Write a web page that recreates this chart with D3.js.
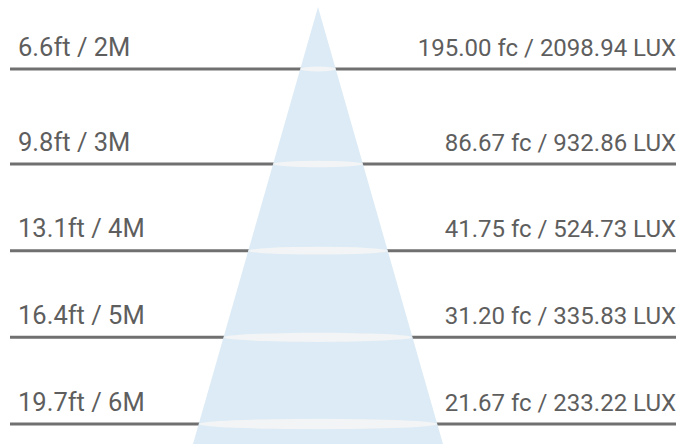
<!DOCTYPE html>
<html lang="en">
  <head>
    <meta charset="UTF-8" />
    <title>Beam Illuminance</title>
    <script src="https://d3js.org/d3.v7.min.js"></script>
    <style>
      body {
        margin: 0;
        background: #fff;
        font-family: Roboto, Arial, sans-serif;
      }
    </style>
  </head>
  <body>
    <div id="chart"></div>
    <script>
      // distances and illuminance readings
      const meters = [2, 3, 4, 5, 6];
      const feet = ['6.6', '9.8', '13.1', '16.4', '19.7'];
      const footCandles = ['195.00', '86.67', '41.75', '31.20', '21.67'];
      const lux = ['2098.94', '932.86', '524.73', '335.83', '233.22'];

      const width = 696;
      const height = 444;

      const svg = d3
        .select('#chart')
        .append('svg')
        .attr('width', width)
        .attr('height', height);

      // distance -> vertical position of each row (first gap is a bit taller)
      const y = d3.scaleLinear().domain([2, 3, 6]).range([69, 164, 424]);

      // cone: apex near the top, widening downward
      const cx = 318;
      const apexY = 7;
      const halfW = d3.scaleLinear().domain([apexY, height]).range([0, 125]);

      const rows = meters.map((m, i) => ({
        m,
        ft: feet[i],
        fc: footCandles[i],
        lux: lux[i],
      }));

      // horizontal rules
      svg
        .selectAll('.rule')
        .data(rows)
        .join('line')
        .attr('class', 'rule')
        .attr('x1', 10)
        .attr('x2', 676)
        .attr('y1', (d) => y(d.m))
        .attr('y2', (d) => y(d.m))
        .attr('stroke', '#707070')
        .attr('stroke-width', 3);

      // light cone
      svg
        .append('path')
        .attr(
          'd',
          d3.line()([
            [cx, apexY],
            [cx + halfW(height), height],
            [cx - halfW(height), height],
          ]) + 'Z'
        )
        .attr('fill', '#dcebf5');

      // light spots on each rule
      svg
        .selectAll('.spot')
        .data(rows)
        .join('ellipse')
        .attr('class', 'spot')
        .attr('cx', cx)
        .attr('cy', (d) => y(d.m))
        .attr('rx', (d) => halfW(y(d.m)))
        .attr('ry', (d) => 2 + halfW(y(d.m)) * 0.027)
        .attr('fill', '#f2f4f5');

      // left labels
      svg
        .selectAll('.dist')
        .data(rows)
        .join('text')
        .attr('class', 'dist')
        .attr('x', 18)
        .attr('y', (d) => y(d.m) - 13.5)
        .attr('fill', '#5e5e5e')
        .attr('font-size', 25.5)
        .text((d) => `${d.ft}ft / ${d.m}M`);

      // right labels
      svg
        .selectAll('.lux')
        .data(rows)
        .join('text')
        .attr('class', 'lux')
        .attr('x', 676)
        .attr('y', (d) => y(d.m) - 13.5)
        .attr('text-anchor', 'end')
        .attr('fill', '#5e5e5e')
        .attr('font-size', 24)
        .text((d) => `${d.fc} fc / ${d.lux} LUX`);
    </script>
  </body>
</html>
